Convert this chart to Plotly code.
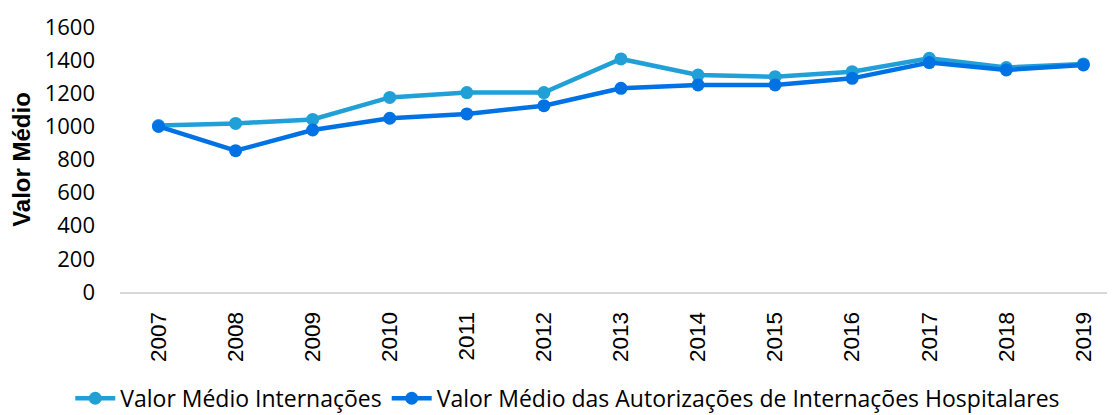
import plotly.graph_objects as go

years = ["2007", "2008", "2009", "2010", "2011", "2012", "2013",
         "2014", "2015", "2016", "2017", "2018", "2019"]
valor_internacoes = [1005, 1018, 1042, 1175, 1204, 1204, 1407,
                     1310, 1300, 1330, 1411, 1355, 1377]
valor_aih = [1000, 853, 978, 1049, 1075, 1125, 1230,
             1250, 1250, 1290, 1385, 1341, 1371]
y_ticks = [0, 200, 400, 600, 800, 1000, 1200, 1400, 1600]

light = "#21A0D8"
dark = "#0072E3"

fig = go.Figure()
fig.add_trace(go.Scatter(
    x=years, y=valor_internacoes, mode="lines+markers",
    name="Valor Médio Internações",
    line=dict(color=light, width=4.5),
    marker=dict(color=light, size=13),
))
fig.add_trace(go.Scatter(
    x=years, y=valor_aih, mode="lines+markers",
    name="Valor Médio das Autorizações de Internações Hospitalares",
    line=dict(color=dark, width=4.5),
    marker=dict(color=dark, size=13),
))

fig.update_layout(
    width=1107, height=407,
    margin=dict(l=112, r=0, t=19, b=123, autoexpand=False),
    paper_bgcolor="white", plot_bgcolor="white",
    font=dict(family="Open Sans", color="black"),
    showlegend=True,
    legend=dict(
        orientation="h", x=0.45, xanchor="center", y=-0.32, yanchor="top",
        font=dict(family="Open Sans", size=23, color="black"),
        itemwidth=40, tracegroupgap=0,
    ),
    xaxis=dict(
        type="category", range=[-0.5, 12.41], automargin=False,
        showgrid=False, showline=True, linecolor="#D9D9D9", linewidth=2,
        ticks="", tickangle=-90, ticklabelstandoff=9,
        tickfont=dict(family="Liberation Sans", size=22.5, color="black"),
        zeroline=False,
    ),
    yaxis=dict(
        range=[0, 1600], tickvals=y_ticks, automargin=False,
        showgrid=False, showline=False, zeroline=False,
        ticks="", ticklabelstandoff=24,
        tickfont=dict(family="Open Sans", size=22, color="black"),
        title=dict(text="<b>Valor Médio</b>", standoff=7,
                   font=dict(family="Liberation Sans", size=24, color="black")),
    ),
)

fig.write_html("out.html")
